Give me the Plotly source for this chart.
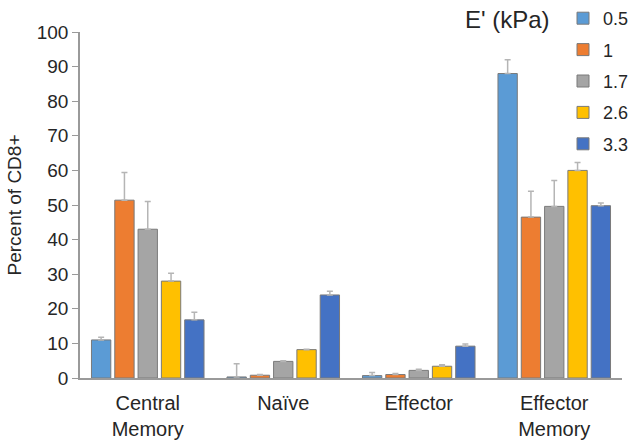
import plotly.graph_objects as go

categories = ["Central<br>Memory", "Naïve", "Effector", "Effector<br>Memory"]
series_names = ["0.5", "1", "1.7", "2.6", "3.3"]
values = {
    "0.5": [11.0, 0.3, 0.7, 88.0],
    "1":   [51.4, 0.8, 1.0, 46.5],
    "1.7": [43.0, 4.8, 2.2, 49.6],
    "2.6": [28.0, 8.2, 3.4, 60.0],
    "3.3": [16.8, 24.0, 9.2, 49.8],
}
errors = {
    "0.5": [0.8, 3.8, 0.9, 4.0],
    "1":   [8.0, 0.2, 0.3, 7.5],
    "1.7": [8.0, 0.2, 0.3, 7.5],
    "2.6": [2.3, 0.1, 0.4, 2.3],
    "3.3": [2.2, 1.1, 0.6, 0.8],
}
colors = ["#5B9BD5", "#ED7D31", "#A5A5A5", "#FFC000", "#4472C4"]
y_ticks = [0, 10, 20, 30, 40, 50, 60, 70, 80, 90, 100]

FONT = "Liberation Sans, Arial, sans-serif"
TXT = "#262626"

L, R, T, B = 80, 9, 32, 63
W, H = 631, 441
PW, PH = W - L - R, H - T - B

fig = go.Figure()
for name, col in zip(series_names, colors):
    fig.add_trace(go.Bar(
        x=categories, y=values[name], name=name, legendgroup=name,
        marker=dict(color=col, line=dict(color="#7a7a7a", width=1)),
        error_y=dict(type="data", array=errors[name], symmetric=False,
                     arrayminus=[0] * len(categories),
                     color="#b5b5b5", thickness=1.5, width=3),
    ))

fig.update_layout(
    width=W, height=H,
    margin=dict(l=L, r=R, t=T, b=B, autoexpand=False),
    paper_bgcolor="white", plot_bgcolor="white",
    barmode="group", bargap=0.14, bargroupgap=0.17,
    font=dict(family=FONT, color=TXT, size=19),
    showlegend=True,
    legend=dict(x=(563 - L) / PW, y=(H - B - 0) / PH, xanchor="left", yanchor="top",
                font=dict(size=18, family=FONT, color=TXT),
                tracegroupgap=5, itemwidth=30, bgcolor="rgba(0,0,0,0)"),
    xaxis=dict(showline=True, linecolor="#9a9a9a", linewidth=1.5,
               ticks="", tickfont=dict(size=20, family=FONT, color=TXT),
               ticklabelstandoff=6, showgrid=False),
    yaxis=dict(range=[0, 100], tickvals=y_ticks, showline=True,
               linecolor="#9a9a9a", linewidth=1.5, ticks="outside",
               ticklen=6, tickcolor="#9a9a9a", showgrid=False, zeroline=False,
               tickfont=dict(size=19, family=FONT, color=TXT),
               title=dict(text="Percent of CD8+", font=dict(size=19, family=FONT, color=TXT), standoff=10)),
    annotations=[dict(text="E' (kPa)", x=(507 - L) / PW, y=(H - B - 20) / PH,
                      xref="paper", yref="paper", showarrow=False,
                      xanchor="center", yanchor="middle",
                      font=dict(size=24, family=FONT, color=TXT))],
)

fig.write_html("out.html", config={"displayModeBar": False},
               post_script="document.body.style.margin='0';")
